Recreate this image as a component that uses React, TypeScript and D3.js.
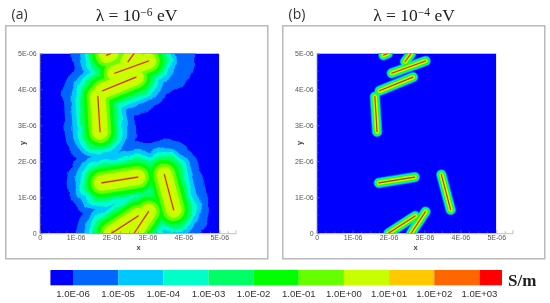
import React, { useEffect, useRef } from 'react';
import * as d3 from 'd3';

// fibres, [x1, y1, x2, y2] in units of 1E-06
const fibres = [
  [1.62, 3.8, 1.68, 2.82],
  [1.75, 3.96, 2.68, 4.34],
  [2.09, 4.45, 3.03, 4.79],
  [2.46, 4.77, 2.63, 5.0],
  [1.86, 4.95, 1.98, 5.0],
  [1.73, 1.4, 2.73, 1.56],
  [3.47, 1.63, 3.73, 0.65],
  [2.0, 0, 2.74, 0.48],
  [2.63, 0, 3.03, 0.6],
];
// outer band bulges a bit further here in panel (a)
const outerPatches = [[3.03, 4.79, 3.35, 4.86]];

const bandColors = ['#0066ff', '#00c8ff', '#00ffc8', '#00ff66', '#00ff00', '#66ff00', '#c8ff00', '#ffc800'];
const radiiA = [0.98, 0.76, 0.63, 0.51, 0.41, 0.31, 0.22, 0.035];
const radiiB = [0.15, 0.13, 0.112, 0.098, 0.085, 0.07, 0.055, 0.02];

const axisTicks = [0, 1, 2, 3, 4, 5];
const axisTickLabels = ['0', '1E-06', '2E-06', '3E-06', '4E-06', '5E-06'];
const minorTicks = [0.25, 0.5, 0.75, 1.25, 1.5, 1.75, 2.25, 2.5, 2.75, 3.25, 3.5, 3.75, 4.25, 4.5, 4.75, 5.25];

const legendEdges = [-6.5, -6, -5, -4, -3, -2, -1, 0, 1, 2, 3, 3.5];
const legendFill = ['#0000ff', '#0066ff', '#00c8ff', '#00ffc8', '#00ff66', '#00ff00', '#66ff00', '#c8ff00', '#ffc800', '#ff6600', '#ff0000'];
const legendTicks = [-6, -5, -4, -3, -2, -1, 0, 1, 2, 3];
const legendLabels = ['1.0E-06', '1.0E-05', '1.0E-04', '1.0E-03', '1.0E-02', '1.0E-01', '1.0E+00', '1.0E+01', '1.0E+02', '1.0E+03'];

const sans = '"Liberation Sans", Arial, sans-serif';
const serif = '"Liberation Serif", serif';

function drawPanel(svg, id, left, frameLeft, label, labelX, exponent, titleX, radii, patches) {
  const x = d3.scaleLinear().domain([0, 5]).range([left, left + 179.6]);
  const y = d3.scaleLinear().domain([0, 5]).range([233.2, 53.4]);
  const unit = x(1) - x(0);
  const g = svg.append('g');

  g.append('rect').attr('x', frameLeft).attr('y', 25.8).attr('width', 262).attr('height', 233)
    .attr('fill', '#fff').attr('stroke', '#b4b4b4').attr('stroke-width', 1.4);

  g.append('text').attr('x', labelX).attr('y', 19).attr('font-family', '"Open Sans", sans-serif')
    .attr('font-size', 14).attr('fill', '#333').text(label);

  const title = g.append('text').attr('x', titleX).attr('y', 21).attr('font-family', serif)
    .attr('font-size', 17.5).attr('fill', '#222').attr('text-anchor', 'middle');
  title.append('tspan').text('λ = 10');
  title.append('tspan').attr('dy', -5.5).attr('font-size', 11.5).text('−' + exponent);
  title.append('tspan').attr('dy', 5.5).text(' eV');

  svg.append('clipPath').attr('id', id).append('rect')
    .attr('x', x(0)).attr('y', y(5)).attr('width', x(5) - x(0)).attr('height', y(0) - y(5));

  const plot = g.append('g').attr('clip-path', `url(#${id})`);
  plot.append('rect').attr('x', x(0)).attr('y', y(5)).attr('width', x(5) - x(0)).attr('height', y(0) - y(5)).attr('fill', '#0000ff');

  const segment = d3.line().x(d => x(d[0])).y(d => y(d[1]));
  const stroked = (parent, list, width, color) => {
    parent.selectAll(null).data(list).enter().append('path')
      .attr('d', d => segment([[d[0], d[1]], [d[2], d[3]]]))
      .attr('fill', 'none').attr('stroke', color).attr('stroke-width', width).attr('stroke-linecap', 'round');
  };

  radii.forEach((r, i) => {
    // only the wide outer contours of (a) have the rough mesh edge
    const band = plot.append('g');
    if (r > 0.45) band.attr('filter', 'url(#rough)');
    stroked(band, i === 0 ? fibres.concat(patches) : fibres, 2 * r * unit, bandColors[i]);
  });
  stroked(plot, fibres, 1.1, '#a8400f');

  // axes: Tecplot style with ticks pointing into the plot
  const axisX = d3.scaleLinear().domain([0, 5.45]).range([x(0), x(5.45)]);
  const bottom = g.append('g').attr('transform', `translate(0,${y(0)})`)
    .call(d3.axisBottom(axisX).tickValues(axisTicks).tickSize(-3).tickPadding(2.3)
      .tickFormat((d, i) => axisTickLabels[i]));
  const left2 = g.append('g').attr('transform', `translate(${x(0)},0)`)
    .call(d3.axisLeft(y).tickValues(axisTicks).tickSize(-3).tickPadding(3)
      .tickFormat((d, i) => axisTickLabels[i]));
  [bottom, left2].forEach(a => {
    a.selectAll('path').attr('stroke', '#999').attr('stroke-width', 0.6);
    a.selectAll('line').attr('stroke', '#777').attr('stroke-width', 0.6);
    a.selectAll('text').attr('font-family', sans).attr('font-size', 7).attr('fill', '#555');
  });
  g.selectAll(null).data(minorTicks).enter().append('line')
    .attr('x1', d => x(d)).attr('x2', d => x(d)).attr('y1', y(0)).attr('y2', y(0) - 2)
    .attr('stroke', '#777').attr('stroke-width', 0.5);
  g.selectAll(null).data(minorTicks.filter(d => d < 5)).enter().append('line')
    .attr('y1', d => y(d)).attr('y2', d => y(d)).attr('x1', x(0)).attr('x2', x(0) + 2)
    .attr('stroke', '#777').attr('stroke-width', 0.5);

  g.append('text').attr('x', x(2.75)).attr('y', 249.5).attr('text-anchor', 'middle')
    .attr('font-family', sans).attr('font-size', 7.5).attr('font-weight', 700).attr('fill', '#444').text('x');
  g.append('text').attr('transform', `translate(${left - 15},143) rotate(-90)`).attr('text-anchor', 'middle')
    .attr('font-family', sans).attr('font-size', 7.5).attr('font-weight', 700).attr('fill', '#444').text('y');
}

function drawLegend(svg) {
  const s = d3.scaleLinear().domain([-6, 3]).range([73, 479.4]);
  const g = svg.append('g');
  g.selectAll('rect').data(legendFill).enter().append('rect')
    .attr('x', (d, i) => s(legendEdges[i]))
    .attr('width', (d, i) => s(legendEdges[i + 1]) - s(legendEdges[i]))
    .attr('y', 270).attr('height', 15.3).attr('fill', d => d);
  g.selectAll('text').data(legendTicks).enter().append('text')
    .attr('x', d => s(d)).attr('y', 297.2).attr('text-anchor', 'middle')
    .attr('font-family', sans).attr('font-size', 9.6).attr('fill', '#333')
    .text((d, i) => legendLabels[i]);
  svg.append('text').attr('x', 508).attr('y', 286).attr('font-family', serif)
    .attr('font-size', 17).attr('font-weight', 700).attr('fill', '#222').text('S/m');
}

export default function App() {
  const ref = useRef(null);

  useEffect(() => {
    const svg = d3.select(ref.current);
    svg.selectAll('*').remove();

    const filter = svg.append('filter').attr('id', 'rough').attr('x', 0).attr('y', 0)
      .attr('width', 550).attr('height', 303).attr('filterUnits', 'userSpaceOnUse');
    filter.append('feTurbulence').attr('type', 'fractalNoise').attr('baseFrequency', 0.09)
      .attr('numOctaves', 1).attr('seed', 4).attr('result', 'n');
    filter.append('feDisplacementMap').attr('in', 'SourceGraphic').attr('in2', 'n').attr('scale', 7)
      .attr('xChannelSelector', 'R').attr('yChannelSelector', 'G');

    drawPanel(svg, 'clipA', 39.7, 5.8, '(a)', 11.5, '6', 136.5, radiiA, outerPatches);
    drawPanel(svg, 'clipB', 316.7, 282.8, '(b)', 288.5, '4', 414, radiiB, []);
    drawLegend(svg);
  }, []);

  return (
    <svg ref={ref} width={550} height={303}
      style={{ position: 'absolute', left: 0, top: 0, filter: 'blur(0.35px)' }} />
  );
}
